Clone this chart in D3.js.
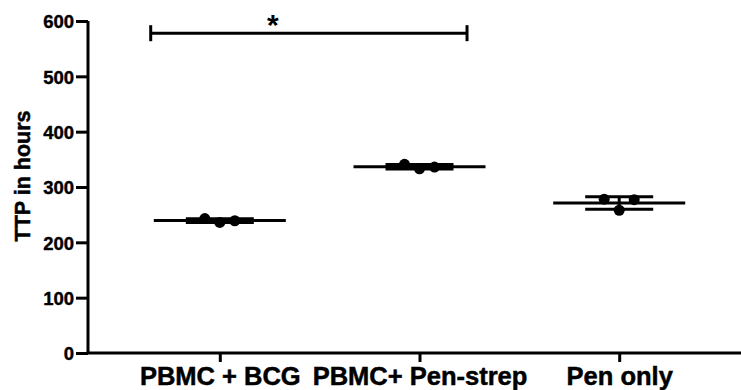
<!DOCTYPE html>
<html><head><meta charset="utf-8">
<script src="https://cdn.jsdelivr.net/npm/d3@7"></script>
<style>body{margin:0;background:#fff}svg{display:block}</style>
</head><body>
<svg id="c" width="741" height="390"></svg>
<script>
const categories = ["PBMC + BCG", "PBMC+ Pen-strep", "Pen only"];
const values = [
  [243, 236, 239],
  [341, 333, 336],
  [278, 258, 277]
];
const yTicks = [0, 100, 200, 300, 400, 500, 600];
const yTitle = "TTP in hours";
const bracket = {from: -0.346, to: 1.238, y: 578, label: "*", labelAt: 0.266};

const svg = d3.select("#c");
const x0 = 88, x1 = 751, yTop = 21, yBot = 353;
const x = d3.scalePoint().domain(categories).range([x0, x1]).padding(0.66);
const y = d3.scaleLinear().domain([0, 600]).range([yBot, yTop]);
const xi = d3.scaleLinear().domain([0, 1]).range([x(categories[0]), x(categories[1])]);
const font = "'Liberation Sans', Arial, sans-serif";

// Y axis
const ya = svg.append("g").attr("transform", `translate(${x0},0)`)
  .call(d3.axisLeft(y).tickValues(yTicks).tickSize(12).tickPadding(2).tickFormat(d3.format("d")));
ya.select(".domain").attr("stroke", "#000").attr("stroke-width", 3).attr("d", `M0,${yTop}V${yBot}`);
ya.selectAll(".tick line").attr("stroke", "#000").attr("stroke-width", 3);
ya.selectAll(".tick text").attr("font-family", font).attr("font-weight", "bold").attr("font-size", 18.5).attr("fill", "#000")
  .attr("stroke", "#000").attr("stroke-width", 0.4).attr("dy", "0.36em");

// X axis
const xa = svg.append("g").attr("transform", `translate(0,${yBot})`)
  .call(d3.axisBottom(x).tickSize(9));
xa.select(".domain").attr("stroke", "#000").attr("stroke-width", 3).attr("d", `M${x0 - 1.5},0H741`);
xa.selectAll(".tick line").attr("stroke", "#000").attr("stroke-width", 3);
xa.selectAll(".tick text").attr("font-family", font).attr("font-weight", "bold").attr("font-size", 25.5).attr("fill", "#000")
  .attr("stroke", "#000").attr("stroke-width", 0.5).attr("y", 32).attr("dy", 0);

// Y title
svg.append("text").attr("transform", `translate(30,176) rotate(-90)`)
  .attr("text-anchor", "middle").attr("font-family", font).attr("font-weight", "bold")
  .attr("font-size", 21.5).attr("fill", "#000").attr("stroke", "#000").attr("stroke-width", 0.5).text(yTitle);

// groups
const meanHalf = 66, capHalf = 34;
categories.forEach((c, i) => {
  const v = values[i];
  const m = d3.mean(v), sd = d3.deviation(v);
  const cx = x(c);
  const g = svg.append("g");
  g.append("line").attr("x1", cx - meanHalf).attr("x2", cx + meanHalf).attr("y1", y(m)).attr("y2", y(m))
    .attr("stroke", "#000").attr("stroke-width", 3);
  g.append("line").attr("x1", cx).attr("x2", cx).attr("y1", y(m - sd)).attr("y2", y(m + sd))
    .attr("stroke", "#000").attr("stroke-width", 3);
  [m - sd, m + sd].forEach(e => g.append("line").attr("x1", cx - capHalf).attr("x2", cx + capHalf)
    .attr("y1", y(e)).attr("y2", y(e)).attr("stroke", "#000").attr("stroke-width", 3));
  const off = [-15, 0, 15];
  g.selectAll("circle").data(v).join("circle")
    .attr("cx", (d, j) => cx + off[j]).attr("cy", d => y(d)).attr("r", 5.5).attr("fill", "#000");
});

// significance bracket
const by = y(bracket.y);
const bg = svg.append("g").attr("stroke", "#000").attr("stroke-width", 3);
bg.append("line").attr("x1", xi(bracket.from)).attr("x2", xi(bracket.to)).attr("y1", by).attr("y2", by);
[bracket.from, bracket.to].forEach(t => bg.append("line").attr("x1", xi(t)).attr("x2", xi(t)).attr("y1", by - 8).attr("y2", by + 8));
svg.append("text").attr("x", xi(bracket.labelAt)).attr("y", by + 2).attr("text-anchor", "middle")
  .attr("font-family", font).attr("font-weight", "bold").attr("font-size", 30).attr("fill", "#000").text(bracket.label);
</script>
</body></html>
